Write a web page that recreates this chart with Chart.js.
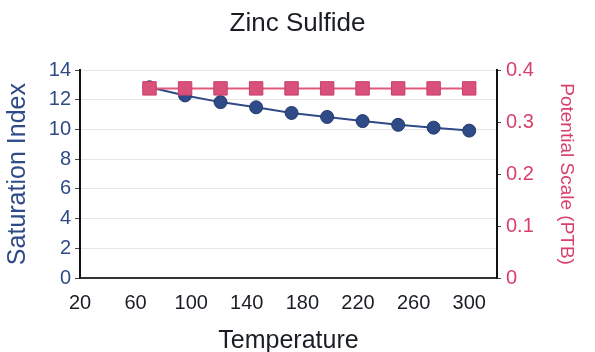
<!DOCTYPE html>
<html>
<head>
<meta charset="utf-8">
<script src="https://cdn.jsdelivr.net/npm/chart.js@4.4.1/dist/chart.umd.min.js"></script>
<style>
  html, body { margin: 0; padding: 0; background: #fff; }
  #wrap { width: 595px; height: 352px; }
</style>
</head>
<body>
<div id="wrap"><canvas id="zns"></canvas></div>
<script>
// Temperatures where the scaling calc was run
const temperatures = [70, 95.6, 121.1, 146.7, 172.2, 197.8, 223.3, 248.9, 274.4, 300];
// Saturation index (left axis)
const saturationIndex = [12.85, 12.3, 11.85, 11.5, 11.12, 10.85, 10.57, 10.32, 10.13, 9.93];
// Potential scale in PTB (right axis)
const potentialPTB = [0.365, 0.365, 0.365, 0.365, 0.365, 0.365, 0.365, 0.365, 0.365, 0.365];

const xTicks = [20, 60, 100, 140, 180, 220, 260, 300];

const BLUE = '#2f4b87';
const RED = '#d8406a';
const FONT = "'Liberation Sans', Arial, Helvetica, sans-serif";

function pts(ys) {
    return temperatures.map((t, i) => ({ x: t, y: ys[i] }));
}

new Chart(document.getElementById('zns').getContext('2d'), {
    type: 'line',
    data: {
        datasets: [
            {
                label: 'Potential Scale (PTB)',
                data: pts(potentialPTB),
                yAxisID: 'y2',
                borderColor: '#e2587a',
                backgroundColor: '#d9507a',
                borderWidth: 2,
                pointStyle: 'rect',
                pointRadius: 9.5,
                pointBorderColor: '#c8416a',
                pointBorderWidth: 1
            },
            {
                label: 'Saturation Index',
                data: pts(saturationIndex),
                yAxisID: 'y',
                borderColor: BLUE,
                backgroundColor: BLUE,
                borderWidth: 2,
                pointStyle: 'circle',
                pointRadius: 6.5,
                pointBorderColor: '#23396b',
                pointBorderWidth: 1
            }
        ]
    },
    options: {
        responsive: true,
        maintainAspectRatio: false,
        animation: false,
        layout: { padding: 0 },
        plugins: {
            legend: { display: false },
            tooltip: { enabled: false },
            title: {
                display: true,
                text: 'Zinc Sulfide',
                color: '#1a1e24',
                font: { family: FONT, size: 26, weight: 'normal' },
                padding: { top: 8, bottom: 31 }
            }
        },
        scales: {
            x: {
                type: 'linear',
                min: 20,
                max: 320,
                afterBuildTicks: (axis) => { axis.ticks = xTicks.map(v => ({ value: v })); },
                afterFit: (axis) => { axis.height = 74; },
                grid: { display: false, drawTicks: true, tickLength: 5, tickColor: '#555' },
                border: { color: '#333', width: 2 },
                ticks: { color: '#1a1e24', font: { family: FONT, size: 20 }, padding: 8, maxRotation: 0 },
                title: {
                    display: true,
                    text: 'Temperature',
                    color: '#1a1e24',
                    font: { family: FONT, size: 25, lineHeight: 0.9 },
                    padding: { top: 0, bottom: 0 }
                }
            },
            y: {
                position: 'left',
                min: 0,
                max: 14,
                afterFit: (axis) => { axis.width = 80; },
                ticks: { stepSize: 2, color: BLUE, font: { family: FONT, size: 20 }, padding: 4 },
                grid: { color: '#e6e6e6', lineWidth: 1, tickLength: 5, tickColor: '#444' },
                border: { color: '#111', width: 2 },
                title: {
                    display: true,
                    text: 'Saturation Index',
                    color: BLUE,
                    font: { family: FONT, size: 25 },
                    padding: { top: 3, bottom: 0 }
                }
            },
            y2: {
                position: 'right',
                min: 0,
                max: 0.4,
                afterFit: (axis) => { axis.width = 98; },
                ticks: {
                    stepSize: 0.1,
                    color: RED,
                    font: { family: FONT, size: 20 },
                    padding: 5,
                    callback: (v) => v === 0 ? '0' : v.toFixed(1)
                },
                grid: { drawOnChartArea: false, tickLength: 4, tickColor: '#444' },
                border: { color: '#111', width: 2 },
                title: {
                    display: true,
                    text: 'Potential Scale (PTB)',
                    color: RED,
                    font: { family: FONT, size: 19 },
                    padding: { top: 17, bottom: 0 }
                }
            }
        }
    }
});
</script>
</body>
</html>
